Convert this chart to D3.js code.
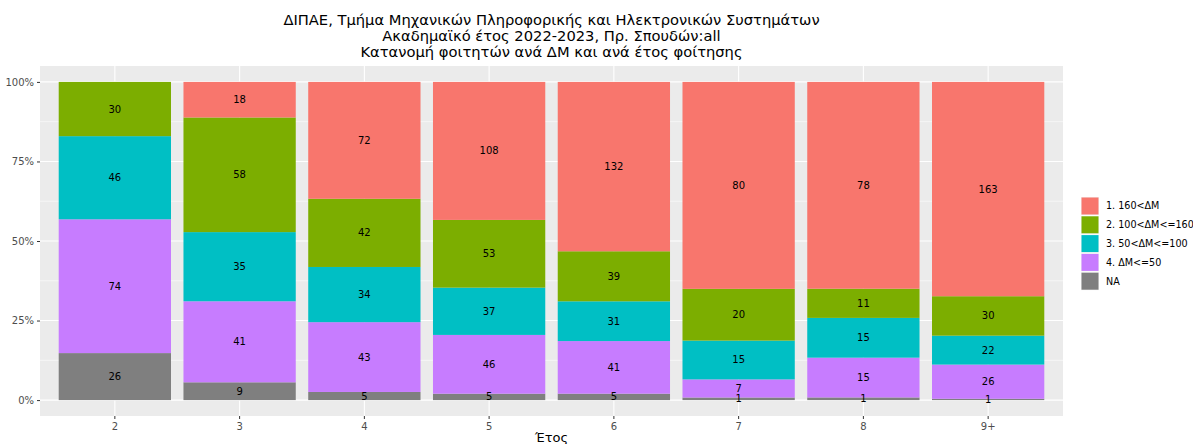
<!DOCTYPE html>
<html>
<head>
<meta charset="utf-8">
<script src="https://cdn.jsdelivr.net/npm/d3@7"></script>
<style>
body { margin: 0; background: #fff; }
svg { font-family: "DejaVu Sans", sans-serif; }
</style>
</head>
<body>
<svg id="chart" width="1193" height="444"></svg>
<script>
// categories (year of study)
const years = ['2', '3', '4', '5', '6', '7', '8', '9+'];
// series, top to bottom in the legend
const groups = ['1. 160<ΔΜ', '2. 100<ΔΜ<=160', '3. 50<ΔΜ<=100', '4. ΔΜ<=50', 'NA'];
const colors = ['#F8766D', '#7CAE00', '#00BFC4', '#C77CFF', '#7F7F7F'];
// counts per series, one per year
const g160 = [0, 18, 72, 108, 132, 80, 78, 163];
const g100 = [30, 58, 42, 53, 39, 20, 11, 30];
const g50 = [46, 35, 34, 37, 31, 15, 15, 22];
const g0 = [74, 41, 43, 46, 41, 7, 15, 26];
const gNA = [26, 9, 5, 5, 5, 1, 1, 1];
const yTicks = [0, 0.25, 0.5, 0.75, 1];
const titleLines = [
	'ΔΙΠΑΕ, Τμήμα Μηχανικών Πληροφορικής και Ηλεκτρονικών Συστημάτων',
	'Ακαδημαϊκό έτος 2022-2023, Πρ. Σπουδών:all',
	'Κατανομή φοιτητών ανά ΔΜ και ανά έτος φοίτησης'
];

const series = [g160, g100, g50, g0, gNA];

const svg = d3.select('#chart');
const panel = { left: 40, right: 1063, top: 66, bottom: 416 };

// build rows for stacking
const rows = years.map((y, i) => {
	const r = { year: y };
	groups.forEach((g, j) => (r[g] = series[j][i]));
	return r;
});

// bottom first: NA, then 4, 3, 2, 1
const stackKeys = groups.slice().reverse();
const stacked = d3.stack().keys(stackKeys).offset(d3.stackOffsetExpand)(rows);

// ggplot-like: bar width 0.9, 0.6 units of expansion on each side
const x = d3.scaleBand().domain(years).range([panel.left, panel.right]).paddingInner(0.1).paddingOuter(0.15);
const y = d3.scaleLinear().domain([-0.05, 1.05]).range([panel.bottom, panel.top]);

const color = d3.scaleOrdinal().domain(groups).range(colors);

// panel background
svg.append('rect')
	.attr('x', panel.left).attr('y', panel.top)
	.attr('width', panel.right - panel.left).attr('height', panel.bottom - panel.top)
	.attr('fill', '#EBEBEB');

// gridlines
const grid = svg.append('g');
d3.range(0.125, 1, 0.25).forEach(t => {
	grid.append('line')
		.attr('x1', panel.left).attr('x2', panel.right)
		.attr('y1', y(t)).attr('y2', y(t))
		.attr('stroke', '#fff').attr('stroke-width', 0.55);
});
yTicks.forEach(t => {
	grid.append('line')
		.attr('x1', panel.left).attr('x2', panel.right)
		.attr('y1', y(t)).attr('y2', y(t))
		.attr('stroke', '#fff').attr('stroke-width', 1.1);
});
years.forEach(yr => {
	const cx = x(yr) + x.bandwidth() / 2;
	grid.append('line')
		.attr('x1', cx).attr('x2', cx)
		.attr('y1', panel.top).attr('y2', panel.bottom)
		.attr('stroke', '#fff').attr('stroke-width', 1.1);
});

// bars
const layers = svg.append('g').selectAll('g')
	.data(stacked)
	.join('g')
	.attr('fill', d => color(d.key));

layers.selectAll('rect')
	.data(d => d)
	.join('rect')
	.attr('x', d => x(d.data.year))
	.attr('width', x.bandwidth())
	.attr('y', d => y(d[1]))
	.attr('height', d => y(d[0]) - y(d[1]));

// value labels
stacked.forEach(layer => {
	layer.forEach(d => {
		const v = d.data[layer.key];
		if (!v) return;
		svg.append('text')
			.attr('x', x(d.data.year) + x.bandwidth() / 2)
			.attr('y', y((d[0] + d[1]) / 2))
			.attr('dy', '0.35em')
			.attr('text-anchor', 'middle')
			.attr('font-size', 10)
			.attr('fill', '#000')
			.text(v);
	});
});

// axes
const yAxis = svg.append('g')
	.attr('transform', `translate(${panel.left},0)`)
	.call(d3.axisLeft(y).tickValues(yTicks).tickFormat(d3.format('.0%')).tickSize(3).tickPadding(3));
const xAxis = svg.append('g')
	.attr('transform', `translate(0,${panel.bottom})`)
	.call(d3.axisBottom(x).tickSize(3).tickPadding(4));
[xAxis, yAxis].forEach(a => {
	a.select('.domain').remove();
	a.selectAll('line').attr('stroke', '#333');
	a.selectAll('text').attr('fill', '#4D4D4D').attr('font-size', 10).attr('font-family', 'DejaVu Sans');
});

// x axis title
svg.append('text')
	.attr('x', (panel.left + panel.right) / 2)
	.attr('y', 442)
	.attr('text-anchor', 'middle')
	.attr('font-size', 13)
	.text('Έτος');

// title
svg.append('g').selectAll('text')
	.data(titleLines)
	.join('text')
	.attr('x', (panel.left + panel.right) / 2)
	.attr('y', (d, i) => 25 + i * 16)
	.attr('text-anchor', 'middle')
	.attr('font-size', 14.7)
	.text(d => d);

// legend
const legend = svg.append('g').attr('transform', 'translate(1081,197)');
groups.forEach((g, i) => {
	const row = legend.append('g').attr('transform', `translate(0,${i * 18.8})`);
	row.append('rect').attr('width', 18).attr('height', 18).attr('fill', '#F2F2F2');
	row.append('rect').attr('x', 0.5).attr('y', 0.5).attr('width', 17).attr('height', 17).attr('fill', color(g));
	row.append('text')
		.attr('x', 25).attr('y', 9).attr('dy', '0.35em')
		.attr('font-size', 9.6)
		.text(g);
});
</script>
</body>
</html>
